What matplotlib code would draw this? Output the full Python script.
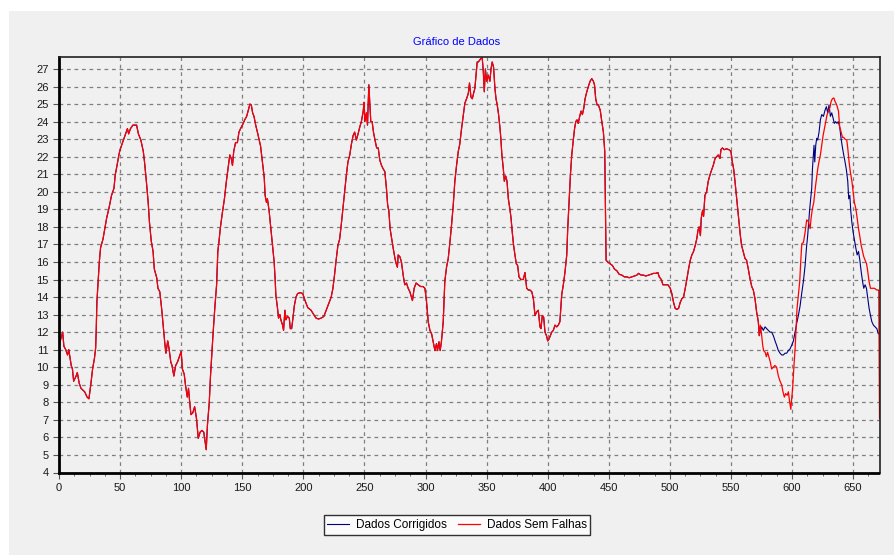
import matplotlib
matplotlib.use("Agg")
import matplotlib.pyplot as plt
from matplotlib.patches import Rectangle
from matplotlib.ticker import MultipleLocator

plt.rcParams['font.family'] = ['Liberation Sans', 'DejaVu Sans']

# Dados Sem Falhas (leitura do grafico)
sf_x = [0, 1, 3, 4, 5.5, 7, 8, 10, 11, 12, 14, 15, 16.5, 18, 21, 23, 24.5, 26, 27.5, 29,
        30, 30.5, 31, 32, 33, 34, 36, 37.5, 39, 41, 43, 45, 46, 47.5, 49, 50, 52, 54, 56, 57,
        58.5, 60.5, 62.5, 63.5, 65, 67, 69, 70, 71.5, 73, 74, 75.5, 77, 78, 80, 81, 82.5, 84, 85, 86.5,
        87.5, 89, 90, 91.5, 92.5, 94, 95.5, 97, 98, 100, 101, 102.5, 103.5, 105, 106, 107, 108, 109.5, 111, 112.5,
        114, 115.5, 117, 118.5, 119.5, 120.5, 121.5, 123, 124, 125, 126, 127.5, 129, 130, 131, 132, 133.5, 135.4, 137, 138.7,
        139.8, 141, 142, 143, 144.5, 146, 147.3, 148.6, 150.8, 152, 153.6, 155.5, 156.3, 157.4, 158.5, 159.6, 161, 162.4, 163.7, 165,
        166.5, 168, 168.7, 169.8, 170.6, 172, 173.4, 174.7, 176.1, 177, 177.5, 178.8, 179.7, 180.8, 181.6, 183, 183.8, 184.9, 185.7, 187,
        188.5, 189.3, 190.4, 191.5, 192.6, 194, 195.3, 197.5, 199.5, 201.4, 203.6, 206.3, 208.5, 210.4, 212.4, 214.6, 216.8, 218.7, 220.6, 222.8,
        224.2, 225.5, 227, 228.3, 229.7, 231, 232.4, 233.8, 235.2, 236.5, 238, 239.3, 240.7, 242, 243.4, 244.8, 246.2, 247.5, 249, 249.7,
        250.3, 251.6, 252.5, 253.6, 254.4, 255.2, 256.3, 257.4, 258.5, 260, 261.3, 262.6, 264, 265.4, 266.7, 268, 269, 270, 271, 272,
        273.5, 275, 276, 277, 277.6, 279, 280.3, 281.7, 283, 284.4, 285.8, 287.2, 288.5, 289.3, 290.7, 292.3, 294, 296, 298, 299.5,
        300.8, 302.2, 303.6, 305, 306.3, 307.7, 309, 309.8, 311, 312, 313, 314.5, 315.8, 317.2, 318.6, 320, 321.3, 322.7, 324, 325.4,
        326.8, 328, 329.5, 331, 332.2, 333.6, 335, 336, 337.2, 338.3, 339.3, 340.4, 341.5, 342.3, 343.2, 344.3, 345.4, 346.4, 347.3, 348.1,
        349, 350, 351.4, 352.7, 353.6, 354.6, 355.7, 356.8, 357.7, 358.7, 359.8, 361, 361.7, 362.5, 363.7, 364.5, 365.6, 366.7, 367.8, 369,
        370, 371, 372, 373.2, 374.3, 375.4, 376.5, 378, 380, 381.4, 382.8, 384.2, 385.5, 387, 388.3, 389.6, 391, 392.3, 393.7, 394.5,
        395.6, 396.7, 397.8, 399, 400, 401, 402.2, 403.3, 404.6, 406, 407.4, 408.7, 410, 411.5, 412.8, 414.2, 415.6, 416.4, 417.5, 418.6,
        419.7, 420.8, 422, 423, 424, 425, 426.2, 427.3, 428.4, 429.5, 430.6, 432, 433.3, 434.7, 436.1, 437.4, 438.3, 439.3, 440.4, 441.5,
        443, 444.3, 445.6, 446.7, 447.3, 447.8, 449.2, 451, 453, 454.6, 456.6, 458.5, 460.7, 462.8, 464.8, 466.7, 469, 471, 473, 474.3,
        476.5, 478.4, 480.3, 482.5, 484.7, 486.6, 488.5, 490.2, 491.3, 493, 494.3, 496.2, 498.4, 500.3, 501.6, 503, 504.4, 505.7, 507.1, 508.5,
        509.8, 511.2, 512.6, 514, 515.3, 516.7, 518, 519.4, 520.8, 522.1, 523, 524, 525, 525.7, 526.8, 527.6, 528.7, 530.1, 531.4, 532.8,
        534.2, 535.5, 537, 538.3, 539.6, 541, 541.8, 543, 544.5, 546.4, 548.4, 550, 551, 552.2, 553.3, 554.4, 555.5, 556.6, 557.7, 558.7,
        560, 561.5, 562.8, 564.2, 565.6, 567, 568.3, 569.7, 571, 572.4, 573.2, 574, 575, 576, 576.7, 578, 579, 580, 581, 582.2,
        583.3, 584.7, 586, 587.4, 588.8, 590.2, 591.5, 592.6, 593.7, 594.8, 596, 597, 598, 599, 599.7, 600.5, 601.4, 602.5, 603.3, 604.1,
        605.2, 606.3, 607.1, 608, 609.3, 610.7, 612, 613.4, 614.8, 615.6, 616.7, 617.8, 619, 620, 621, 622, 623.2, 624.3, 625.4, 626.5,
        627.6, 628.7, 629.8, 631, 632, 633, 634.2, 635.2, 636.6, 638, 639, 640.2, 641.3, 642.3, 643.4, 644.8, 645.6, 646.7, 647.8, 649,
        650, 651, 652.2, 653.3, 654.4, 655.5, 656.6, 657.7, 658.7, 659.8, 661, 662, 663, 664.2, 665.8, 667.5, 669.4, 671, 671.6]
sf_y = [11.9, 11.5, 12.0, 11.2, 11.0, 10.7, 11.0, 10.1, 9.9, 9.2, 9.5, 9.7, 9.1, 8.8, 8.6, 8.3, 8.2, 9.0, 9.9, 10.5,
        11.1, 12.2, 13.7, 14.9, 16.0, 16.8, 17.3, 17.9, 18.5, 19.1, 19.8, 20.2, 20.95, 21.5, 22.1, 22.4, 22.8, 23.2, 23.6, 23.3,
        23.6, 23.8, 23.8, 23.8, 23.3, 22.95, 22.3, 21.7, 20.6, 19.4, 18.3, 17.2, 16.6, 15.6, 15.1, 14.5, 14.3, 13.35, 12.6, 11.45,
        10.8, 11.5, 11.1, 10.3, 10.1, 9.5, 10.1, 10.3, 10.5, 10.9, 9.9, 9.6, 9.0, 8.3, 8.8, 8.0, 7.3, 7.4, 7.75, 7.1,
        5.95, 6.3, 6.4, 6.3, 5.8, 5.3, 6.7, 8.0, 9.5, 10.7, 11.8, 13.35, 14.7, 16.6, 17.2, 17.9, 18.7, 19.6, 20.6, 21.5,
        22.1, 21.9, 21.5, 22.3, 22.8, 22.8, 23.4, 23.6, 23.9, 24.1, 24.3, 24.8, 25.0, 24.95, 24.5, 24.3, 23.8, 23.4, 23.0, 22.6,
        21.7, 20.8, 19.8, 19.4, 19.6, 18.9, 17.9, 17.0, 16.0, 14.9, 14.1, 13.4, 12.8, 13.0, 12.7, 12.4, 12.1, 13.25, 12.7, 12.9,
        12.8, 12.2, 12.2, 12.8, 13.5, 14.0, 14.2, 14.25, 14.2, 13.8, 13.4, 13.25, 13.0, 12.8, 12.75, 12.8, 12.9, 13.25, 13.6, 14.0,
        14.5, 15.25, 16.2, 16.95, 17.3, 18.1, 19.05, 20.0, 20.95, 21.7, 22.1, 22.7, 23.2, 23.4, 22.95, 23.3, 23.7, 24.0, 24.6, 25.1,
        24.0, 24.5, 23.8, 26.1, 25.1, 24.0, 24.0, 23.4, 23.0, 22.5, 22.5, 21.8, 21.5, 21.3, 21.15, 20.2, 19.25, 18.9, 17.9, 17.45,
        16.8, 16.2, 15.9, 15.7, 16.4, 16.3, 16.0, 15.25, 14.7, 14.8, 14.5, 14.3, 14.0, 13.8, 14.5, 14.8, 14.7, 14.6, 14.6, 14.5,
        13.75, 12.6, 12.1, 11.9, 11.45, 10.95, 11.35, 10.95, 11.45, 10.95, 11.45, 12.6, 14.9, 15.7, 16.2, 17.15, 18.1, 19.25, 20.6, 21.5,
        22.3, 22.7, 23.6, 24.4, 25.05, 25.3, 25.6, 26.2, 25.4, 25.3, 25.6, 25.9, 26.75, 27.4, 27.4, 27.5, 27.6, 27.65, 26.85, 25.7,
        27.0, 26.3, 26.65, 26.3, 27.0, 27.4, 27.1, 25.9, 25.3, 24.95, 24.4, 23.6, 23.0, 22.1, 21.3, 20.6, 20.9, 20.6, 19.6, 19.05,
        18.5, 17.7, 17.0, 16.4, 15.9, 15.8, 15.15, 15.0, 15.0, 15.4, 14.5, 14.4, 14.4, 14.3, 13.9, 12.95, 13.15, 13.25, 12.3, 12.2,
        12.95, 12.85, 12.0, 11.8, 11.5, 11.6, 11.8, 12.0, 12.1, 12.4, 12.3, 12.4, 12.6, 14.15, 14.7, 15.45, 16.4, 17.9, 19.4, 20.95,
        22.1, 22.85, 23.6, 24.0, 24.1, 23.9, 24.3, 24.6, 24.4, 24.75, 25.3, 25.7, 26.0, 26.3, 26.45, 26.3, 26.1, 25.3, 24.95, 24.95,
        24.65, 24.0, 23.4, 22.3, 18.7, 16.1, 16.0, 15.9, 15.8, 15.6, 15.5, 15.3, 15.25, 15.15, 15.15, 15.1, 15.15, 15.2, 15.25, 15.35,
        15.25, 15.25, 15.2, 15.25, 15.3, 15.35, 15.35, 15.4, 15.15, 15.0, 14.7, 14.7, 14.7, 14.5, 14.2, 13.7, 13.35, 13.3, 13.35, 13.7,
        13.9, 14.0, 14.5, 15.05, 15.6, 16.1, 16.4, 16.6, 16.95, 17.35, 17.8, 18.0, 17.5, 18.5, 18.95, 18.6, 19.8, 20.0, 20.6, 20.95,
        21.25, 21.5, 21.9, 22.0, 22.1, 21.9, 22.4, 22.5, 22.4, 22.45, 22.4, 22.3, 21.75, 21.3, 20.6, 19.8, 19.05, 18.3, 17.5, 16.95,
        16.6, 16.2, 16.1, 15.6, 15.05, 14.6, 14.4, 13.9, 13.15, 12.6, 11.8, 12.4, 11.9, 11.25, 10.95, 10.85, 10.6, 10.85, 10.6, 10.3,
        9.9, 10.0, 10.1, 10.0, 9.5, 9.2, 9.0, 8.6, 8.3, 8.5, 8.4, 8.6, 8.05, 7.6, 8.2, 8.8, 9.9, 11.05, 12.2, 13.35,
        14.1, 14.9, 16.0, 17.05, 17.1, 17.7, 18.4, 18.3, 17.9, 18.5, 19.05, 19.4, 20.2, 20.75, 21.3, 21.7, 22.1, 22.65, 23.2, 23.6,
        24.0, 24.4, 24.6, 24.8, 25.15, 25.3, 25.35, 25.15, 24.95, 24.6, 23.7, 23.4, 23.1, 23.1, 23.0, 22.95, 22.5, 21.7, 21.1, 20.6,
        20.0, 19.4, 19.05, 18.5, 17.9, 17.45, 16.95, 16.6, 16.3, 16.1, 15.9, 15.45, 14.9, 14.5, 14.5, 14.5, 14.4, 14.4, 7.1]

# trecho corrigido (a partir de ~573)
cor_x = [573.8, 575.1, 576.5, 577.9, 579.2, 580.6, 582, 583.3, 584.7, 586.1, 587.4, 588.8, 590.2, 591.5, 592.9,
         594.3, 595.6, 597, 598.4, 599.7, 601.1, 602.5, 603.8, 605.2, 606.6, 607.9, 609.3, 610.7, 611.8, 612.8,
         613.7, 614.5, 615.3, 616.1, 616.7, 617.5, 618, 618.6, 619.4, 620.2, 621, 622.1, 623.2, 624.3, 625.7,
         627, 628.1, 629.2, 630.3, 631.4, 632.5, 633.6, 634.6, 635.7, 636.8, 637.9, 639, 640.2, 641.3, 642.3,
         643.4, 644.5, 645.6, 646.4, 647.3, 648.1, 648.9, 650, 651.1, 652.2, 653.3, 654.4, 655.5, 656.6, 657.7,
         658.7, 659.8, 660.9, 662, 663.1, 664.2, 665.3, 666.6, 668, 669.4, 670.7]
cor_y = [12.0, 12.3, 12.1, 12.3, 12.2, 12.1, 12.0, 12.0, 11.8, 11.5, 11.25, 10.95, 10.8, 10.7, 10.7,
         10.8, 10.8, 10.95, 11.05, 11.25, 11.5, 12.0, 12.5, 12.95, 13.5, 14.2, 14.9, 15.8, 16.8, 17.5,
         18.3, 19.05, 19.6, 20.2, 21.3, 22.1, 22.65, 21.7, 22.65, 23.05, 22.95, 23.4, 24.1, 24.4, 24.3,
         24.65, 24.85, 24.5, 24.95, 24.3, 24.5, 24.2, 23.9, 24.0, 23.9, 24.0, 23.7, 23.0, 22.5, 22.1,
         21.7, 21.25, 20.6, 19.6, 19.8, 18.9, 18.3, 17.7, 17.25, 16.8, 16.4, 16.6, 16.1, 15.45, 14.9,
         14.5, 14.7, 14.5, 13.9, 13.35, 12.95, 12.6, 12.4, 12.3, 12.2, 11.9]

# serie corrigida = dados originais ate o ponto da falha + trecho corrigido
dc_x = [x for x in sf_x if x < 573.5] + cor_x
dc_y = [y for x, y in zip(sf_x, sf_y) if x < 573.5] + cor_y

fig = plt.figure(figsize=(8.95, 5.55), dpi=100)
fig.patch.set_facecolor('white')
fig.patches.append(Rectangle((9 / 895, 0), 1, 1 - 11 / 555, transform=fig.transFigure,
                             facecolor='#f0f0f0', edgecolor='none', zorder=-10))

ax = fig.add_axes([59 / 895, (555 - 472.5) / 555, (880 - 59) / 895, (472.5 - 56.7) / 555])
ax.set_facecolor('#f0f0f0')

ax.plot(dc_x, dc_y, color='#000080', lw=0.8, label='Dados Corrigidos')
ax.plot(sf_x, sf_y, color='#ff0000', lw=0.9, label='Dados Sem Falhas')

ax.set_xlim(0, 672)
ax.set_ylim(4, 27.7)
ax.xaxis.set_major_locator(MultipleLocator(50))
ax.xaxis.set_minor_locator(MultipleLocator(12.5))
ax.yaxis.set_major_locator(MultipleLocator(1))
ax.grid(True, which='major', color='#7f7f7f', linestyle=(0, (3, 3)), lw=0.9)

for s in ['left', 'bottom']:
    ax.spines[s].set_linewidth(2)
    ax.spines[s].set_linestyle((0, (3, 1)))
    ax.spines[s].set_color('black')
for s in ['top', 'right']:
    ax.spines[s].set_linewidth(1.2)
    ax.spines[s].set_color('#222222')

ax.tick_params(axis='both', which='major', labelsize=8, labelcolor='#1a1a1a', length=4,
               color='#555555', width=0.8)
ax.tick_params(axis='x', which='minor', length=2, color='#555555')

fig.text(457 / 895, (555 - 42) / 555, 'Gráfico de Dados', color='#0000ff', fontsize=8,
         ha='center', va='center')

leg = fig.legend(loc='center', bbox_to_anchor=(457 / 895, (555 - 525) / 555), ncol=2,
                 fontsize=8.5, frameon=True, fancybox=False, handlelength=1.8,
                 handletextpad=0.6, columnspacing=1.0, borderpad=0.3, borderaxespad=0)
leg.get_frame().set_edgecolor('black')
leg.get_frame().set_facecolor('white')
leg.get_frame().set_linewidth(1)

fig.savefig('out.png', dpi=100, facecolor=fig.get_facecolor())
